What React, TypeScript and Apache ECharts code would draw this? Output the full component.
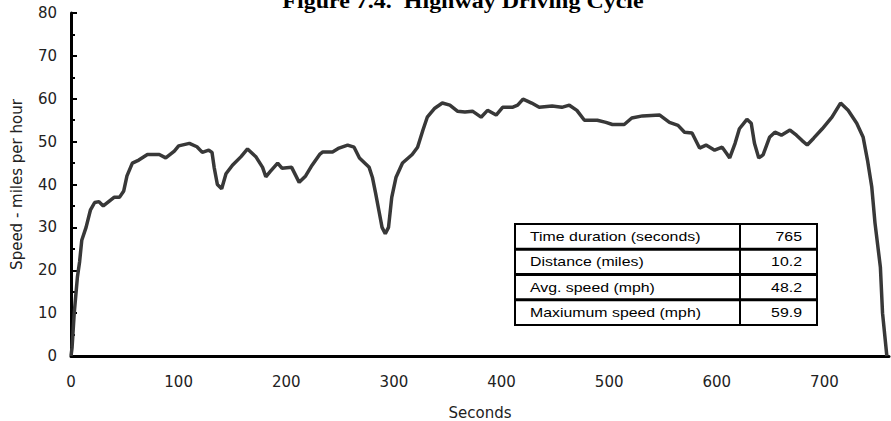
import React, { useEffect, useRef } from "react";
import * as echarts from "echarts";

// Time (s) and speed (mph)
const seconds = [
  0, 1, 3, 6, 8, 10, 14, 18, 22, 26, 30, 35, 40, 45, 49, 52, 57, 63, 71, 82, 88, 96,
  100, 110, 117, 122, 128, 131, 133, 136, 140, 144, 150, 158, 164, 172, 178, 181, 185,
  192, 196, 205, 212, 218, 224, 231, 234, 243, 249, 257, 263, 268, 277, 280, 283, 286,
  289, 292, 295, 298, 302, 308, 317, 322, 327, 331, 338, 345, 352, 359, 366, 373, 381,
  387, 395, 401, 410, 415, 420, 428, 435, 447, 456, 463, 470, 477, 489, 497, 503, 514,
  521, 531, 547, 556, 564, 570, 577, 584, 590, 598, 605, 609, 612, 617, 621, 628, 632,
  635, 639, 643, 649, 654, 660, 668, 674, 679, 684, 690, 698, 707, 715, 722, 730, 736,
  740, 744, 747, 752, 754, 758,
];
const speed = [
  0, 2, 10, 18.5, 22, 27, 30, 34, 35.8, 36, 35, 36, 37, 37, 38.5, 42, 45, 45.7, 47, 47,
  46.2, 47.8, 49, 49.6, 48.8, 47.5, 48, 47.5, 44, 40, 39, 42.5, 44.5, 46.5, 48.3, 46.4,
  44, 41.8, 43, 45, 43.8, 44, 40.5, 42, 44.5, 47, 47.6, 47.6, 48.5, 49.2, 48.7, 46.2,
  44, 41.7, 38, 34, 30, 28.5, 30, 37, 41.7, 45, 47, 48.7, 52.7, 55.7, 57.8, 59, 58.5,
  57.1, 56.9, 57.1, 55.7, 57.3, 56.2, 58, 58, 58.5, 59.9, 59, 58, 58.3, 58, 58.5, 57.3,
  55, 55, 54.5, 54, 54, 55.5, 56, 56.2, 54.5, 53.8, 52.2, 52, 48.5, 49.2, 48, 48.7,
  47.3, 46.2, 49.6, 53, 55.2, 54.3, 49.6, 46.2, 46.9, 51, 52.2, 51.5, 52.7, 51.5, 50.3,
  49.2, 50.8, 53, 55.7, 59, 57.3, 54.3, 51, 45.7, 39.4, 31, 20.7, 10, 0,
];

const titleText = "Figure 7.4.  Highway Driving Cycle";
const xAxisName = "Seconds";
const yAxisName = "Speed - miles per hour";
const tableLabels = [
  "Time duration (seconds)",
  "Distance (miles)",
  "Avg. speed (mph)",
  "Maxiumum speed (mph)",
];
const tableValues = ["765", "10.2", "48.2", "59.9"];

export default function App() {
  const ref = useRef<HTMLDivElement>(null);

  useEffect(() => {
    const chart = echarts.init(ref.current!, null, { renderer: "svg" });

    const tX = 515;
    const tY = 224;
    const tW = 302;
    const tH = 101;
    const rowH = tH / tableLabels.length;
    const colX = 740;

    const tableEls: any[] = [
      {
        type: "rect",
        shape: { x: tX, y: tY, width: tW, height: tH },
        style: { fill: "#fff", stroke: "#000", lineWidth: 2 },
        z: 100,
      },
      {
        type: "line",
        shape: { x1: colX, y1: tY, x2: colX, y2: tY + tH },
        style: { stroke: "#000", lineWidth: 2 },
        z: 101,
      },
    ];
    for (let i = 1; i < tableLabels.length; i++) {
      tableEls.push({
        type: "line",
        shape: { x1: tX, y1: tY + rowH * i, x2: tX + tW, y2: tY + rowH * i },
        style: { stroke: "#000", lineWidth: 3 },
        z: 101,
      });
    }
    tableLabels.forEach((lab, i) => {
      const cy = tY + rowH * i + rowH / 2;
      tableEls.push({
        type: "text",
        x: 530,
        y: cy,
        scaleX: 1.22,
        z: 102,
        style: {
          text: lab,
          x: 0,
          y: 0,
          textAlign: "left",
          textVerticalAlign: "middle",
          font: "13px 'Liberation Sans', Arial, sans-serif",
          fill: "#000",
        },
      });
      tableEls.push({
        type: "text",
        x: 802,
        y: cy,
        scaleX: 1.22,
        z: 102,
        style: {
          text: tableValues[i],
          x: 0,
          y: 0,
          textAlign: "right",
          textVerticalAlign: "middle",
          font: "13px 'Liberation Sans', Arial, sans-serif",
          fill: "#000",
        },
      });
    });

    const option: any = {
      animation: false,
      backgroundColor: "#fff",
      grid: {
        left: 71,
        right: 2,
        top: 13,
        bottom: 65,
        containLabel: false,
        outerBoundsMode: "none",
      },
      xAxis: {
        type: "value",
        min: 0,
        max: 760,
        interval: 100,
        name: xAxisName,
        nameLocation: "middle",
        nameGap: 49,
        nameTextStyle: {
          fontFamily: "'DejaVu Sans', sans-serif",
          fontSize: 15,
          color: "#222",
        },
        axisLine: { show: true, onZero: false, lineStyle: { color: "#000", width: 3 } },
        axisTick: { show: false },
        splitLine: { show: false },
        axisLabel: {
          margin: 18,
          showMaxLabel: false,
          fontFamily: "'DejaVu Sans', sans-serif",
          fontSize: 15,
          color: "#222",
        },
      },
      yAxis: {
        type: "value",
        min: 0,
        max: 80,
        interval: 10,
        name: yAxisName,
        nameLocation: "middle",
        nameGap: 47,
        nameRotate: 90,
        nameTextStyle: {
          fontFamily: "'DejaVu Sans', sans-serif",
          fontSize: 15,
          color: "#222",
        },
        axisLine: { show: true, onZero: false, lineStyle: { color: "#000", width: 3 } },
        axisTick: { show: true, inside: true, length: 6, lineStyle: { color: "#000", width: 2 } },
        minorTick: { show: true, splitNumber: 2, length: 4, lineStyle: { color: "#000", width: 2 } },
        splitLine: { show: false },
        axisLabel: {
          margin: 14,
          fontFamily: "'DejaVu Sans', sans-serif",
          fontSize: 15,
          color: "#222",
        },
      },
      series: [
        {
          type: "line",
          data: seconds.map((s, i) => [s, speed[i]]),
          showSymbol: false,
          symbol: "none",
          lineStyle: { color: "#383838", width: 3.5 },
          z: 3,
        },
      ],
      graphic: [
        {
          type: "text",
          x: 463,
          y: 1,
          scaleX: 1.2,
          z: 100,
          style: {
            text: titleText,
            x: 0,
            y: 0,
            textAlign: "center",
            textVerticalAlign: "middle",
            font: "bold 20px 'Liberation Serif', 'Times New Roman', serif",
            fill: "#000",
          },
        },
        ...tableEls,
      ],
    };

    chart.setOption(option);
    return () => chart.dispose();
  }, []);

  return (
    <div
      ref={ref}
      style={{ position: "absolute", left: 0, top: 0, width: 891, height: 421 }}
    />
  );
}
